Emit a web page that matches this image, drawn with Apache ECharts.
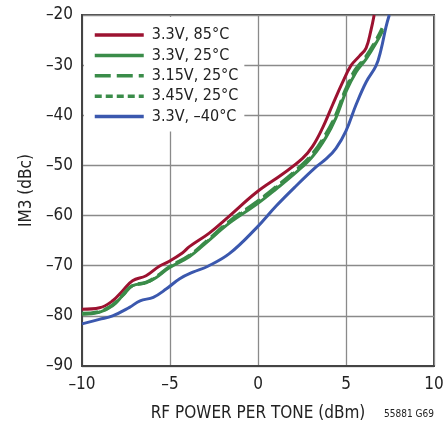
<!DOCTYPE html>
<html>
<head>
    <meta charset="utf-8">
    <title>IM3 vs RF Power per Tone</title>
    <script src="https://cdn.jsdelivr.net/npm/echarts@6/dist/echarts.min.js"></script>
    <style>
        html, body { margin: 0; padding: 0; background: #fff; }
        #chart { width: 446px; height: 422px; }
    </style>
</head>
<body>
<div id="chart"></div>
<script>
    // values
    var seriesNames = ['3.3V, 85°C', '3.3V, 25°C', '3.15V, 25°C', '3.45V, 25°C', '3.3V, –40°C'];
    var xTicks = [-10, -5, 0, 5, 10];
    var yTicks = [-90, -80, -70, -60, -50, -40, -30, -20];

    var hotX = [-10, -9.0, -8.26, -7.69, -7.13, -6.36, -5.61, -5.04, -4.28, -3.9, -2.77, -1.63, -0.1, 1.4, 2.53, 3.1, 3.67, 4.24, 4.81, 5.28, 5.76, 6.14, 6.42, 6.6];
    var hotY = [-78.7, -78.4, -77.0, -75.0, -73.0, -72.0, -70.1, -69.1, -67.4, -66.2, -63.5, -60.1, -55.4, -51.7, -48.6, -46.2, -42.5, -37.9, -33.4, -30.1, -28.2, -26.6, -23.0, -20.0];

    var roomX = [-10, -9.02, -8.26, -7.69, -7.13, -6.36, -5.8, -5.04, -3.9, -3.0, -1.63, -0.1, 1.03, 2.16, 3.1, 3.86, 4.43, 5.0, 5.57, 6.14, 6.71, 7.1];
    var roomY = [-79.7, -79.3, -78.0, -76.0, -74.0, -73.4, -72.4, -70.4, -68.2, -65.6, -61.5, -57.8, -54.7, -51.4, -48.2, -44.4, -40.5, -35.3, -31.4, -28.8, -25.6, -23.0];

    var lowVX = [-10, -9.02, -8.26, -7.69, -7.13, -6.36, -5.8, -5.04, -3.9, -3.0, -1.63, -0.1, 1.03, 2.16, 3.1, 3.8, 4.4, 4.95, 5.5, 6.1, 6.65, 7.05];
    var lowVY = [-79.5, -79.1, -77.8, -75.8, -73.9, -73.3, -72.2, -70.2, -67.9, -65.3, -61.1, -57.3, -54.2, -50.9, -47.6, -44.0, -40.0, -35.0, -31.0, -28.4, -25.3, -22.6];

    var highVX = [-10, -9.02, -8.26, -7.69, -7.13, -6.36, -5.8, -5.04, -3.9, -3.0, -1.63, -0.1, 1.03, 2.16, 3.1, 3.85, 4.42, 4.98, 5.55, 6.12, 6.7, 7.1];
    var highVY = [-79.6, -79.2, -77.9, -75.9, -74.0, -73.4, -72.3, -70.3, -68.0, -65.5, -61.3, -57.5, -54.4, -51.1, -47.9, -44.2, -40.2, -35.1, -31.2, -28.6, -25.4, -22.8];

    var coldX = [-10, -9.02, -8.26, -7.3, -6.7, -5.95, -5.2, -4.45, -3.7, -2.85, -1.63, -0.1, 1.03, 2.16, 3.3, 3.9, 4.43, 5.0, 5.57, 6.14, 6.71, 6.99, 7.27, 7.46];
    var coldY = [-81.6, -80.7, -80.0, -78.3, -77.0, -76.3, -74.6, -72.6, -71.3, -70.1, -67.6, -62.5, -58.1, -54.1, -50.3, -48.6, -46.6, -43.1, -37.9, -33.4, -30.1, -26.9, -22.4, -20.0];

    var colors = ['#9c1230', '#3a8c49', '#3a8c49', '#3a8c49', '#3b58ae'];
    var font = "'Liberation Sans Narrow', 'DejaVu Sans Condensed', 'Liberation Sans', sans-serif";

    function pairs(xs, ys) {
        return xs.map(function (x, i) { return [x, ys[i]]; });
    }
    function dash(v) {
        return String(v).replace('-', '\u2013');
    }

    var curves = [
        pairs(hotX, hotY),
        pairs(roomX, roomY),
        pairs(lowVX, lowVY),
        pairs(highVX, highVY),
        pairs(coldX, coldY)
    ];
    var lineTypes = ['solid', 'solid', [16, 6], [7, 4], 'solid'];

    var myChart = echarts.init(document.getElementById('chart'));
    var option = {
        animation: false,
        color: colors,
        textStyle: { fontFamily: font, color: '#222' },
        grid: {
            left: 82, right: 12, top: 15, bottom: 56,
            outerBoundsMode: 'none',
            show: true,
            borderColor: '#444',
            borderWidth: 2
        },
        legend: {
            orient: 'vertical',
            left: 84,
            top: 17,
            padding: [10, 6, 7, 9],
            itemWidth: 49,
            itemHeight: 14,
            itemGap: 4.4,
            backgroundColor: '#fff',
            itemStyle: { opacity: 0 },
            lineStyle: { width: 3.5 },
            data: seriesNames,
            textStyle: { fontFamily: font, fontSize: 16, color: '#222', padding: [0, 0, 0, 3] }
        },
        xAxis: {
            type: 'value',
            min: -10, max: 10, interval: 5,
            axisLine: { onZero: false, lineStyle: { color: '#444', width: 2 } },
            axisTick: { show: false },
            splitLine: { lineStyle: { color: '#8a8a8a', width: 1.3 } },
            axisLabel: {
                fontSize: 17, color: '#222', margin: 10,
                formatter: function (v) { return xTicks.indexOf(v) >= 0 ? dash(v) : ''; }
            },
            name: 'RF POWER PER TONE (dBm)',
            nameLocation: 'middle',
            nameGap: 39,
            nameTextStyle: { fontSize: 17, color: '#222', fontFamily: font }
        },
        yAxis: {
            type: 'value',
            min: -90, max: -20, interval: 10,
            axisLine: { onZero: false, lineStyle: { color: '#444', width: 2 } },
            axisTick: { show: false },
            splitLine: { lineStyle: { color: '#8a8a8a', width: 1.3 } },
            axisLabel: {
                fontSize: 17, color: '#222', margin: 9,
                formatter: function (v) { return yTicks.indexOf(v) >= 0 ? dash(v) : ''; }
            },
            name: 'IM3 (dBc)',
            nameLocation: 'middle',
            nameGap: 47,
            nameTextStyle: { fontSize: 17, color: '#222', fontFamily: font }
        },
        graphic: [{
            type: 'text',
            right: 12,
            top: 409,
            style: { text: '55881 G69', fontSize: 10, fill: '#222', fontFamily: font }
        }],
        series: seriesNames.map(function (name, i) {
            return {
                name: name,
                type: 'line',
                data: curves[i],
                smooth: 0.4,
                showSymbol: false,
                symbol: 'none',
                clip: true,
                z: i === 1 ? 3 : 2,
                lineStyle: { width: 3, type: lineTypes[i], color: colors[i] }
            };
        })
    };
    myChart.setOption(option);
</script>
</body>
</html>
